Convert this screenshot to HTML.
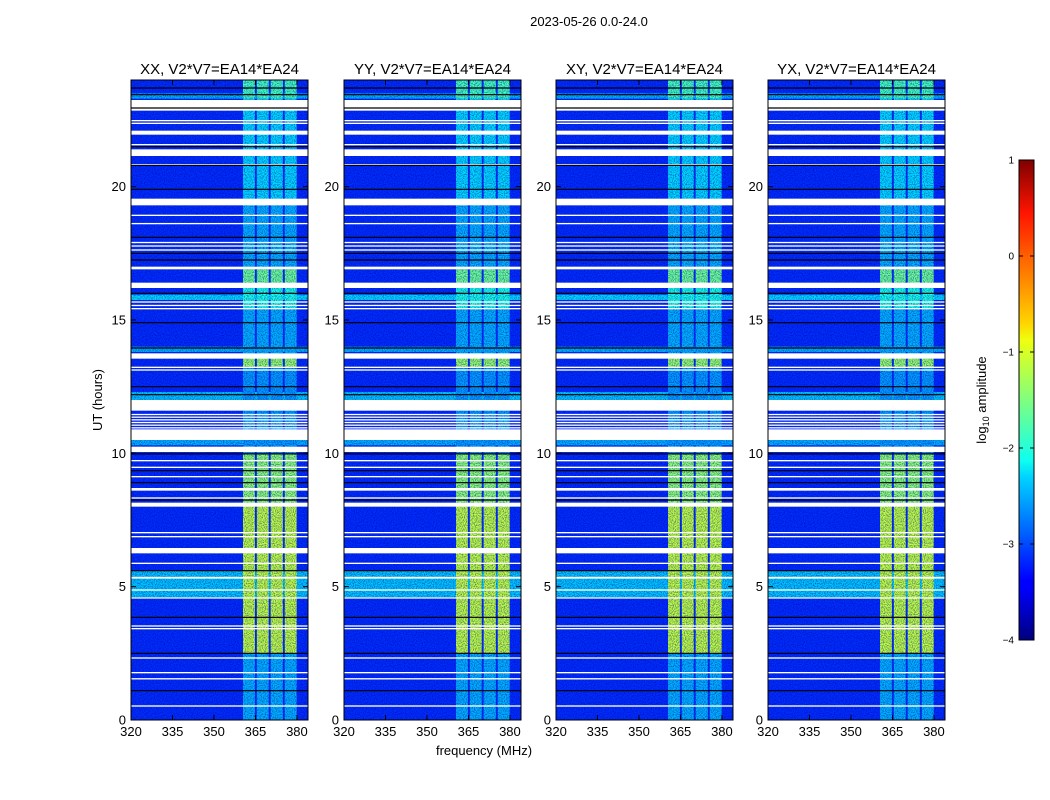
<!DOCTYPE html>
<html><head><meta charset="utf-8"><style>
html,body{margin:0;padding:0;background:#fff;}
svg{display:block;font-family:"Liberation Sans",sans-serif;}
</style></head><body>
<svg id="fig" width="1050" height="800" viewBox="0 0 1050 800" xmlns="http://www.w3.org/2000/svg">
<defs>
<filter id="noise" x="0" y="0" width="100%" height="100%">
<feTurbulence type="fractalNoise" baseFrequency="0.9" numOctaves="1" seed="3" result="t"/>
<feColorMatrix in="t" type="matrix" values="0 0 0 0 0  0 0 0 0 0  0 0 0 0 0.3  0 0 0 2.5 -1.0"/>
</filter>
<linearGradient id="jet" x1="0" y1="1" x2="0" y2="0">
<stop offset="0" stop-color="#00007f"/><stop offset="0.11" stop-color="#0000ff"/><stop offset="0.125" stop-color="#0000ff"/>
<stop offset="0.34" stop-color="#00d4ff"/><stop offset="0.375" stop-color="#0fffef"/><stop offset="0.5" stop-color="#7fff7f"/>
<stop offset="0.625" stop-color="#efff0f"/><stop offset="0.66" stop-color="#ffd400"/><stop offset="0.89" stop-color="#ff1400"/><stop offset="1" stop-color="#7f0000"/>
</linearGradient>
</defs>
<text x="589" y="26" font-size="13" text-anchor="middle">2023-05-26 0.0-24.0</text>
<text x="484" y="755" font-size="13" text-anchor="middle">frequency (MHz)</text>
<text x="102" y="400" font-size="13" text-anchor="middle" transform="rotate(-90 102 400)">UT (hours)</text>
<g id="panels"></g>
<g>
<rect x="1019" y="160" width="15" height="480" fill="url(#jet)" stroke="#000" stroke-width="1"/>
<g id="cbticks"></g>
<text x="986" y="400" font-size="13" text-anchor="middle" transform="rotate(-90 986 400)">log<tspan font-size="9" dy="3">10</tspan><tspan dy="-3"> amplitude</tspan></text>
</g>
</svg>
<script>
const panelTitles = ["XX, V2*V7=EA14*EA24","YY, V2*V7=EA14*EA24","XY, V2*V7=EA14*EA24","YX, V2*V7=EA14*EA24"];
const hourTicks = [0,5,10,15,20];
const freqTicks = [320,335,350,365,380];
const cbTicks = [1,0,-1,-2,-3,-4];
const cbLabels = ["1","0","\u22121","\u22122","\u22123","\u22124"];
const background = -3.15;
const subBands = [[360.5,364.8],[365.5,369.8],[370.5,374.9],[375.6,379.9]];
const segStart = [0,   2.5, 8.1, 10.0, 13.2, 13.7, 15.4, 16.2, 16.9, 19.3, 21.2, 21.4, 23.3];
const segEnd   = [2.5, 8.1, 10.0, 13.2, 13.7, 15.4, 16.2, 16.9, 19.3, 21.2, 21.4, 23.3, 24.0];
const segValue = [-2.5,-1.2,-1.45,-2.6,-1.4,-2.5,-2.0,-1.6,-2.5,-2.3,-0.5,-2.3,-1.8];
const cyanStart = [4.6, 10.3, 12.0, 13.8, 15.75, 23.3];
const cyanEnd   = [5.6, 10.5, 12.3, 14.0, 15.95, 23.5];
const cyanValue = [-2.4,-2.5,-2.4,-2.5,-2.3,-2.5];
const whiteStart = [22.85,22.35,22.45,21.95,21.55,21.15,20.8,19.3,18.9,18.59,17.6,17.75,17.88,16.9,16.2,15.4,15.52,15.65,13.55,13.1,13.2,11.6,10.95,11.05,11.15,11.25,11.35,11.45,10.5,10.05,9.7,9.45,9.1,8.6,8.3,8.0,7.0,6.85,6.25,5.85,5.3,4.85,4.56,3.4,3.5,2.3,1.75,1.52,0.5];
const whiteEnd   = [23.25,22.4,22.5,22.1,21.6,21.4,20.85,19.55,18.95,18.64,17.65,17.8,17.93,17.0,16.4,15.45,15.57,15.7,13.75,13.15,13.25,12.0,10.98,11.08,11.18,11.28,11.38,11.48,10.9,10.25,9.75,9.5,9.15,8.7,8.35,8.15,7.05,6.9,6.45,5.9,5.37,4.9,4.6,3.45,3.55,2.35,1.8,1.57,0.55];
const blackRows = [23.7,23.45,22.95,21.5,20.8,19.9,18.1,17.5,17.25,16.0,14.9,13.95,12.5,12.2,9.98,9.35,8.9,8.25,5.6,3.85,2.5,1.1];
const panelLeft = [131,344,556,768];
const PW = 177, PT = 80, PB = 720, FMIN = 320, FMAX = 384, HMAX = 24;

function jet(v){
  let t=(v+4)/5; t=Math.max(0,Math.min(1,t));
  const c=x=>Math.round(255*Math.max(0,Math.min(1,x)));
  const r=c(1.5-Math.abs(4*t-3)), g=c(1.5-Math.abs(4*t-2)), b=c(1.5-Math.abs(4*t-1));
  return `rgb(${r},${g},${b})`;
}
const NS="http://www.w3.org/2000/svg";
function mk(tag,attrs,parent){const e=document.createElementNS(NS,tag);for(const k in attrs)e.setAttribute(k,attrs[k]);parent.appendChild(e);return e;}
const root=document.getElementById('panels');
panelTitles.forEach((title,p)=>{
  const x0=panelLeft[p];
  const xs=f=>x0+(f-FMIN)/(FMAX-FMIN)*PW;
  const ys=h=>PB-h/HMAX*(PB-PT);
  const g=mk('g',{},root);
  
  
  const bg=mk('rect',{x:x0,y:PT,width:PW,height:PB-PT,fill:jet(background)},g);
  
  
  for(let i=0;i<cyanStart.length;i++){
    const r=mk('rect',{x:x0,y:ys(cyanEnd[i]),width:PW,height:ys(cyanStart[i])-ys(cyanEnd[i]),fill:jet(cyanValue[i])},g);
    
    
  }
  for(let s=0;s<segStart.length;s++){
    subBands.forEach(b=>{
      const r=mk('rect',{x:xs(b[0]),y:ys(segEnd[s]),width:xs(b[1])-xs(b[0]),height:ys(segStart[s])-ys(segEnd[s]),fill:jet(segValue[s])},g);
      
      
    });
  }
  const nz=mk('rect',{x:x0,y:PT,width:PW,height:PB-PT,fill:'#000',filter:'url(#noise)',opacity:0.6},g);
  
  
  for(let i=0;i<whiteStart.length;i++){
    const r=mk('rect',{x:x0,y:ys(whiteEnd[i]),width:PW,height:Math.max(1.3,ys(whiteStart[i])-ys(whiteEnd[i])),fill:'#fff'},g);
    
    
  }
  blackRows.forEach(h=>{
    const l=mk('line',{x1:x0,x2:x0+PW,y1:ys(h),y2:ys(h),stroke:'#000','stroke-width':1.2},g);
    
    
  });
  const fr=mk('rect',{x:x0,y:PT,width:PW,height:PB-PT,fill:'none',stroke:'#000','stroke-width':1},g);
  
  
  const tt=mk('text',{x:x0+PW/2,y:PT-6,'font-size':15,'text-anchor':'middle'},g);
  tt.textContent=title;
  
  
  hourTicks.forEach(h=>{
    mk('line',{x1:x0,x2:x0+5,y1:ys(h),y2:ys(h),stroke:'#000'},g);
    mk('line',{x1:x0+PW,x2:x0+PW-5,y1:ys(h),y2:ys(h),stroke:'#000'},g);
    const t=mk('text',{x:x0-5,y:ys(h)+4.5,'font-size':13,'text-anchor':'end'},g);
    t.textContent=h;
    
    
  });
  freqTicks.forEach(f=>{
    mk('line',{x1:xs(f),x2:xs(f),y1:PB,y2:PB-5,stroke:'#000'},g);
    mk('line',{x1:xs(f),x2:xs(f),y1:PT,y2:PT+5,stroke:'#000'},g);
    const t=mk('text',{x:xs(f),y:PB+16,'font-size':13,'text-anchor':'middle'},g);
    t.textContent=f;
    
    
  });
});
const cb=document.getElementById('cbticks');
cbTicks.forEach((v,i)=>{
  const y=640-(v+4)/5*480;
  mk('line',{x1:1019,x2:1023,y1:y,y2:y,stroke:'#000'},cb);
  mk('line',{x1:1034,x2:1030,y1:y,y2:y,stroke:'#000'},cb);
  const t=mk('text',{x:1014,y:y+3.5,'font-size':10,'text-anchor':'end'},cb);
  t.textContent=cbLabels[i];
  
  
});
</script>
</body></html>
